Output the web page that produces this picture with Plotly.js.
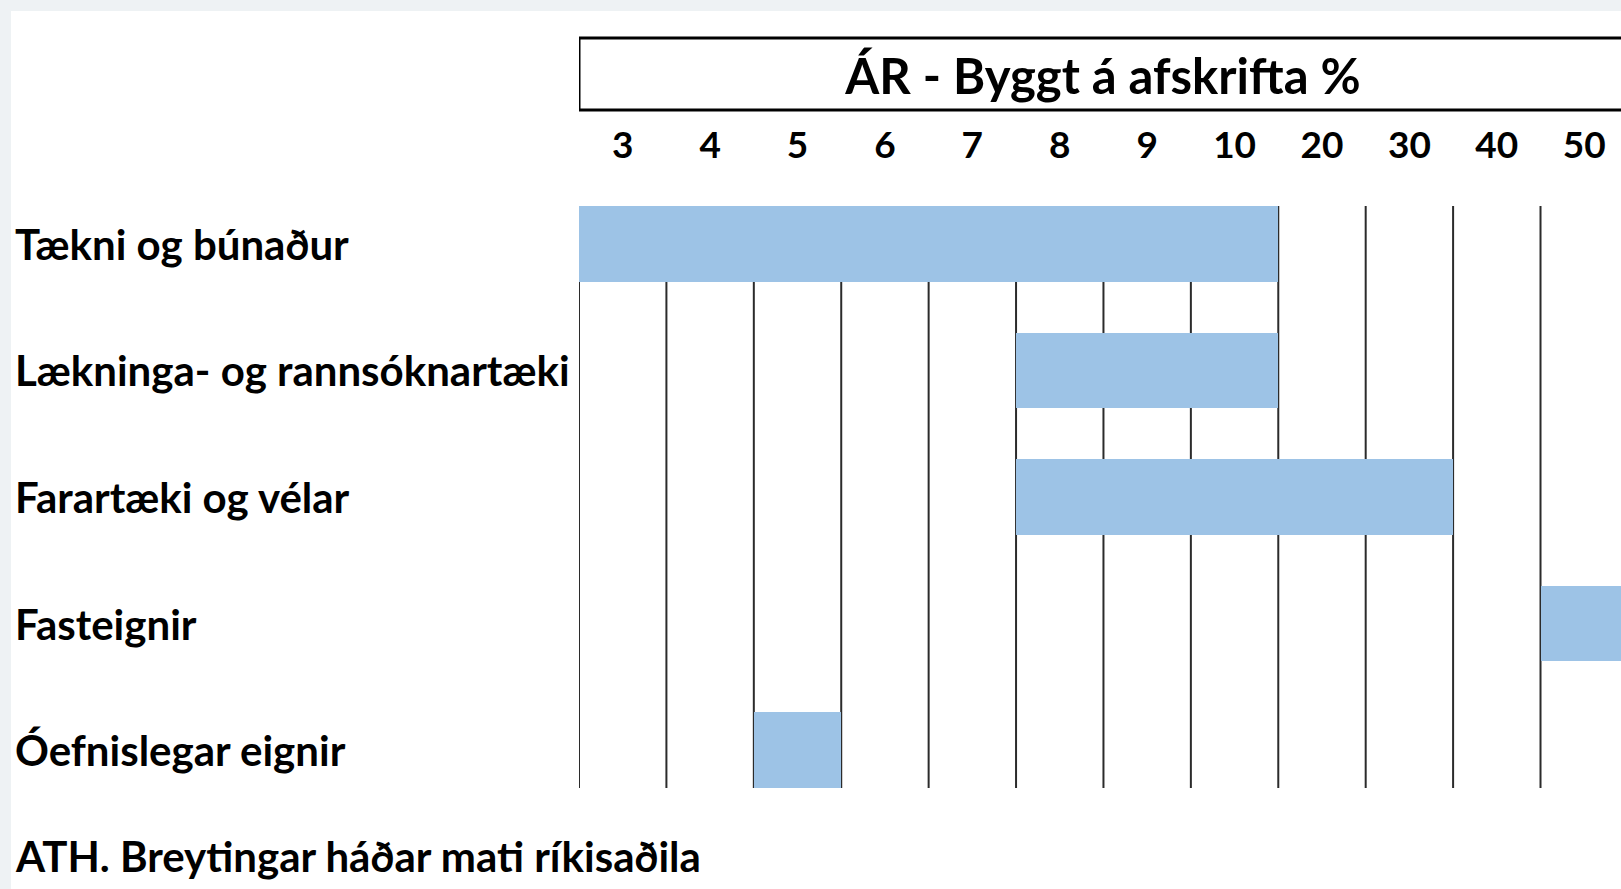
<!DOCTYPE html>
<html>
<head>
<meta charset="utf-8">
<script src="https://cdn.plot.ly/plotly-3.0.1.min.js"></script>
<style>
  html, body { margin: 0; padding: 0; background: #eef2f4; }
  #chart { position: absolute; left: 0; top: 0; width: 1621px; height: 889px; }
</style>
</head>
<body>
<div id="chart"></div>
<script>
// ---- data ----
var categories = ['Tækni og búnaður', 'Lækninga- og rannsóknartæki', 'Farartæki og vélar', 'Fasteignir', 'Óefnislegar eignir'];
var yearLabels = ['3', '4', '5', '6', '7', '8', '9', '10', '20', '30', '40', '50'];
var startYear = ['3', '8', '8', '50', '5'];
var endYear = ['10', '10', '30', '50', '5'];
var titleText = 'ÁR - Byggt á afskrifta %';
var noteText = 'ATH. Breytingar háðar mati ríkisaðila';

// ---- derived ----
var baseIdx = startYear.map(function (s) { return yearLabels.indexOf(s); });
var spanLen = endYear.map(function (e, i) { return yearLabels.indexOf(e) - baseIdx[i] + 1; });
var tickPos = yearLabels.map(function (_, i) { return i + 0.5; });

// ---- layout geometry ----
var W = 1621, H = 889;
var mL = 579, mR = 0, mT = 206, mB = 101;
var plotW = W - mL - mR, plotH = H - mT - mB;
function pxX(px) { return (px - mL) / plotW; }
function pxY(py) { return 1 - (py - mT) / plotH; }

var FONT = 'Lato, "Open Sans", sans-serif';
var BLACK = '#000000';

var trace = {
  type: 'bar',
  orientation: 'h',
  y: categories,
  x: spanLen,
  base: baseIdx,
  width: 0.597,
  marker: { color: '#9dc3e6', line: { width: 0 } },
  hoverinfo: 'skip',
  showlegend: false
};

var shapes = [];
for (var i = 0; i <= yearLabels.length; i++) {
  shapes.push({
    type: 'line', layer: 'below', xref: 'x', yref: 'paper',
    x0: i, x1: i, y0: 0, y1: 1,
    line: { color: '#2b2b2b', width: 2 }
  });
}
// title box
shapes.push({
  type: 'rect', layer: 'above', xref: 'x', yref: 'paper',
  x0: 0, x1: yearLabels.length, y0: pxY(110), y1: pxY(38),
  line: { color: BLACK, width: 3 }, fillcolor: 'rgba(0,0,0,0)'
});

var annotations = categories.map(function (c) {
  return {
    xref: 'paper', yref: 'y', x: pxX(13), y: c,
    xanchor: 'left', yanchor: 'middle', showarrow: false,
    text: '<b>' + c + '</b>',
    font: { family: FONT, size: 42, color: BLACK }
  };
});
annotations.push({
  xref: 'paper', yref: 'paper', x: pxX(13), y: pxY(856),
  xanchor: 'left', yanchor: 'middle', showarrow: false,
  text: '<b>' + noteText + '</b>',
  font: { family: FONT, size: 42, color: BLACK }
});

var layout = {
  width: W, height: H,
  paper_bgcolor: '#ffffff',
  plot_bgcolor: '#ffffff',
  margin: { l: mL, r: mR, t: mT, b: mB, pad: 0 },
  title: {
    text: '<b>' + titleText + '</b>',
    xref: 'container', yref: 'container',
    x: 1103 / W, y: 1 - 77 / H, xanchor: 'center', yanchor: 'middle',
    font: { family: FONT, size: 49, color: BLACK }
  },
  xaxis: {
    side: 'top',
    range: [0, plotW / 87.41],
    tickmode: 'array',
    tickvals: tickPos,
    ticktext: yearLabels.map(function (s) { return '<b>' + s + '</b>'; }),
    ticks: '',
    ticklabelstandoff: 40,
    showgrid: false, zeroline: false, showline: false,
    tickfont: { family: FONT, size: 37, color: BLACK },
    fixedrange: true
  },
  yaxis: {
    type: 'category',
    categoryorder: 'array',
    categoryarray: categories,
    autorange: false,
    range: [categories.length - 1 + 0.2985, -0.2985],
    showticklabels: false,
    ticks: '',
    showgrid: false, zeroline: false, showline: false,
    fixedrange: true
  },
  bargap: 0,
  shapes: shapes,
  annotations: annotations
};

Plotly.newPlot('chart', [trace], layout, { displayModeBar: false, staticPlot: true });
</script>
<style>
  /* outer light frame like the reference (top and left strips) */
  #frameTop { position: absolute; left: 0; top: 0; width: 1621px; height: 11px; background: #eef2f4; z-index: 10; }
  #frameLeft { position: absolute; left: 0; top: 0; width: 11px; height: 889px; background: #eef2f4; z-index: 10; }
</style>
<div id="frameTop"></div>
<div id="frameLeft"></div>
</body>
</html>
